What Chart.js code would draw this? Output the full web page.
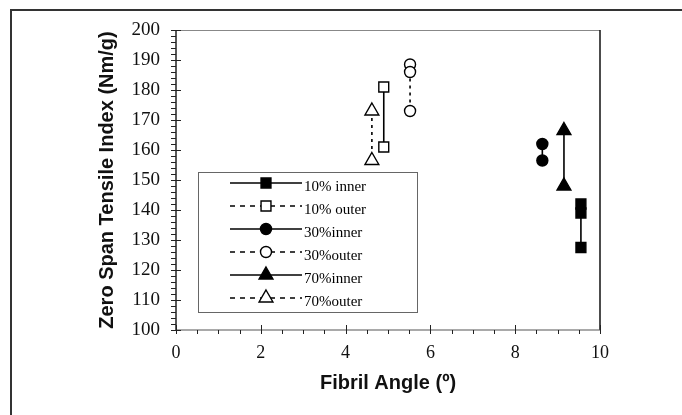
<!DOCTYPE html>
<html>
<head>
<meta charset="utf-8">
<script src="https://cdn.jsdelivr.net/npm/chart.js@4/dist/chart.umd.min.js"></script>
<style>
    html, body { margin: 0; padding: 0; background: #fff; }
    #wrap { width: 682px; height: 415px; }
</style>
</head>
<body>
<div id="wrap"><canvas id="fibrilChart" width="682" height="415"></canvas></div>
<script>
// 범례 이름 (series names)
const seriesNames = ['10% inner', '10% outer', '30%inner', '30%outer', '70%inner', '70%outer'];

// fibril angle (x) values per series
const angle10Inner = [9.55, 9.55, 9.55];
const angle10Outer = [4.9, 4.9];
const angle30Inner = [8.64, 8.64];
const angle30Outer = [5.52, 5.52, 5.52];
const angle70Inner = [9.15, 9.15];
const angle70Outer = [4.62, 4.62];

// zero span tensile index (y) values per series
const tensile10Inner = [142, 139, 127.5];
const tensile10Outer = [181, 161];
const tensile30Inner = [162, 156.5];
const tensile30Outer = [188.5, 186, 173];
const tensile70Inner = [166.5, 148];
const tensile70Outer = [173, 156.5];

// tick labels
const xTickLabels = [0, 2, 4, 6, 8, 10];
const yTickLabels = [100, 110, 120, 130, 140, 150, 160, 170, 180, 190, 200];

const serifFont = "'Liberation Serif', 'Times New Roman', serif";
const sansFont = "'Liberation Sans', Arial, sans-serif";

function toPoints(xs, ys) {
    return xs.map((x, i) => ({ x: x, y: ys[i] }));
}

function makeSeries(label, xs, ys, style, filled, plotDash) {
    return {
        label: label,
        data: toPoints(xs, ys),
        showLine: true,
        borderColor: '#000',
        borderWidth: 1.6,
        borderDash: style.legendDash,
        segment: { borderDash: () => plotDash },
        pointStyle: style.point,
        pointRadius: style.radius,
        pointBorderWidth: 1.4,
        pointBorderColor: '#000',
        pointBackgroundColor: filled ? '#000' : '#fff',
        legendDash: style.legendDash
    };
}

// 테두리, 눈금 (frame, borders, tick marks)
const framePlugin = {
    id: 'framePlugin',
    beforeDraw(chart) {
        const ctx = chart.ctx;
        ctx.save();
        ctx.fillStyle = '#fff';
        ctx.fillRect(0, 0, chart.width, chart.height);
        // outer picture frame (top + left)
        ctx.strokeStyle = '#333';
        ctx.lineWidth = 2;
        ctx.beginPath();
        ctx.moveTo(682, 10);
        ctx.lineTo(11, 10);
        ctx.lineTo(11, 415);
        ctx.stroke();
        ctx.restore();
    },
    beforeDatasetsDraw(chart) {
        const ctx = chart.ctx;
        const a = chart.chartArea;
        const xs = chart.scales.x, ys = chart.scales.y;
        ctx.save();
        // top + right border of plot
        ctx.lineWidth = 1;
        ctx.strokeStyle = '#888';
        ctx.beginPath();
        ctx.moveTo(a.left, a.top + 0.5);
        ctx.lineTo(a.right, a.top + 0.5);
        ctx.stroke();
        ctx.strokeStyle = '#111';
        ctx.lineWidth = 1.5;
        ctx.beginPath();
        ctx.moveTo(a.right, a.top);
        ctx.lineTo(a.right, a.bottom);
        ctx.stroke();
        // axes
        ctx.strokeStyle = '#222';
        ctx.beginPath();
        ctx.moveTo(a.left, a.top);
        ctx.lineTo(a.left, a.bottom);
        ctx.stroke();
        ctx.strokeStyle = '#555';
        ctx.lineWidth = 1.2;
        ctx.beginPath();
        ctx.moveTo(a.left, a.bottom);
        ctx.lineTo(a.right, a.bottom);
        ctx.stroke();
        // tick marks
        ctx.lineWidth = 1;
        ctx.strokeStyle = '#222';
        ys.ticks.forEach(t => {
            const py = Math.round(ys.getPixelForValue(t.value)) + 0.5;
            const major = yTickLabels.includes(t.value);
            ctx.beginPath();
            ctx.moveTo(a.left - 5, py);
            ctx.lineTo(a.left + (major ? 5 : 0), py);
            ctx.stroke();
        });
        xs.ticks.forEach(t => {
            const px = Math.round(xs.getPixelForValue(t.value)) + 0.5;
            const major = xTickLabels.includes(t.value);
            ctx.beginPath();
            ctx.moveTo(px, a.bottom - (major ? 5 : 0));
            ctx.lineTo(px, a.bottom + 4);
            ctx.stroke();
        });
        ctx.restore();
    }
};

// 범례 (legend box inside plot)
const legendBox = { left: 198, top: 172, right: 417, bottom: 312 };

const legendPlugin = {
    id: 'legendPlugin',
    afterDraw(chart) {
        const ctx = chart.ctx;
        ctx.save();
        ctx.fillStyle = '#fff';
        ctx.fillRect(legendBox.left, legendBox.top, legendBox.right - legendBox.left, legendBox.bottom - legendBox.top);
        ctx.strokeStyle = '#666';
        ctx.lineWidth = 1;
        ctx.strokeRect(legendBox.left + 0.5, legendBox.top + 0.5, legendBox.right - legendBox.left, legendBox.bottom - legendBox.top);

        chart.data.datasets.forEach((ds, i) => {
            const y = legendBox.top + 11 + i * 23;
            ctx.strokeStyle = '#000';
            ctx.lineWidth = 1.6;
            ctx.setLineDash(ds.legendDash);
            ctx.beginPath();
            ctx.moveTo(230, y);
            ctx.lineTo(302, y);
            ctx.stroke();
            ctx.setLineDash([]);
            ctx.fillStyle = ds.pointBackgroundColor;
            ctx.strokeStyle = '#000';
            ctx.lineWidth = 1.4;
            Chart.helpers.drawPoint(ctx, {
                pointStyle: ds.pointStyle,
                radius: ds.pointRadius,
                borderWidth: 1.4,
                rotation: 0
            }, 266, y);
            ctx.fillStyle = '#000';
            ctx.font = '15px ' + serifFont;
            ctx.textBaseline = 'middle';
            ctx.textAlign = 'left';
            ctx.fillText(ds.label, 304, y + 4);
        });
        ctx.restore();
    }
};

const squareStyle = { point: 'rect', radius: 7 };
const circleStyle = { point: 'circle', radius: 5.5 };
const triangleStyle = { point: 'triangle', radius: 8 };

const solid = [];
const dashed = [5, 5];
const dotted = [3, 4];

const datasets = [
    makeSeries(seriesNames[0], angle10Inner, tensile10Inner, { ...squareStyle, legendDash: solid }, true, solid),
    makeSeries(seriesNames[1], angle10Outer, tensile10Outer, { ...squareStyle, legendDash: dashed }, false, solid),
    makeSeries(seriesNames[2], angle30Inner, tensile30Inner, { ...circleStyle, legendDash: solid }, true, solid),
    makeSeries(seriesNames[3], angle30Outer, tensile30Outer, { ...circleStyle, legendDash: dashed }, false, dotted),
    makeSeries(seriesNames[4], angle70Inner, tensile70Inner, { ...triangleStyle, legendDash: solid }, true, solid),
    makeSeries(seriesNames[5], angle70Outer, tensile70Outer, { ...triangleStyle, legendDash: dashed }, false, dotted)
];

const chartEl = document.getElementById('fibrilChart').getContext('2d');

let chart = new Chart(chartEl, {
    type: 'scatter',
    data: { datasets: datasets },
    plugins: [framePlugin, legendPlugin],
    options: {
        responsive: false,
        animation: false,
        devicePixelRatio: 1,
        layout: {
            padding: { left: 90, right: 82, top: 30, bottom: 0 }
        },
        plugins: {
            legend: { display: false },
            tooltip: { enabled: false }
        },
        scales: {
            x: {
                type: 'linear',
                min: 0,
                max: 10,
                grid: { display: false, drawTicks: false },
                border: { display: false },
                ticks: {
                    stepSize: 0.5,
                    autoSkip: false,
                    maxRotation: 0,
                    padding: 12,
                    color: '#111',
                    font: { family: serifFont, size: 18 },
                    callback: v => xTickLabels.includes(v) ? String(v) : ''
                },
                title: {
                    display: true,
                    text: 'Fibril Angle (º)',
                    color: '#111',
                    font: { family: sansFont, size: 20, weight: 'bold' },
                    padding: { top: 0, bottom: 20 }
                },
                afterFit: scale => { scale.height = 85; }
            },
            y: {
                type: 'linear',
                min: 100,
                max: 200,
                grid: { display: false, drawTicks: false },
                border: { display: false },
                ticks: {
                    stepSize: 2,
                    autoSkip: false,
                    padding: 16,
                    color: '#111',
                    font: { family: serifFont, size: 19 },
                    callback: v => yTickLabels.includes(v) ? String(v) : ''
                },
                title: {
                    display: true,
                    text: 'Zero Span Tensile Index (Nm/g)',
                    color: '#111',
                    font: { family: sansFont, size: 20, weight: 'bold' },
                    padding: { top: 5, bottom: 0 }
                },
                afterFit: scale => { scale.width = 86; }
            }
        }
    }
});
</script>
</body>
</html>
